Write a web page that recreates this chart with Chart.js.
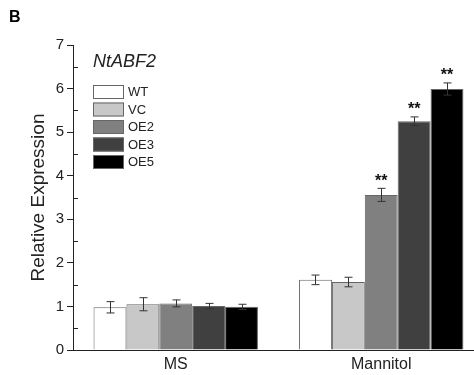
<!DOCTYPE html>
<html>
<head>
<meta charset="utf-8">
<script src="https://cdn.jsdelivr.net/npm/chart.js@4.4.0/dist/chart.umd.min.js"></script>
<style>
  html, body { margin: 0; padding: 0; background: #fff; overflow: hidden; }
  #wrap { position: relative; width: 474px; height: 375px; overflow: hidden; }
</style>
</head>
<body>
<div id="wrap"><canvas id="chart" width="486" height="375"></canvas></div>
<script>
// groups on the x axis
const groups = ['MS', 'Mannitol'];
const lines = ['WT', 'VC', 'OE2', 'OE3', 'OE5'];
const yTicks = [0, 1, 2, 3, 4, 5, 6, 7];

// mean relative expression per group
const meanWT  = [0.98, 1.61];
const meanVC  = [1.05, 1.56];
const meanOE2 = [1.07, 3.56];
const meanOE3 = [1.01, 5.25];
const meanOE5 = [0.99, 5.99];

// error (SD)
const errWT  = [0.13, 0.11];
const errVC  = [0.15, 0.11];
const errOE2 = [0.08, 0.15];
const errOE3 = [0.06, 0.10];
const errOE5 = [0.06, 0.14];

// significance marks
const sigWT  = ['', ''];
const sigVC  = ['', ''];
const sigOE2 = ['', '**'];
const sigOE3 = ['', '**'];
const sigOE5 = ['', '**'];

const fills = ['#ffffff', '#c8c8c8', '#808080', '#404040', '#000000'];
const means = [meanWT, meanVC, meanOE2, meanOE3, meanOE5];
const errs = [errWT, errVC, errOE2, errOE3, errOE5];
const sigs = [sigWT, sigVC, sigOE2, sigOE3, sigOE5];

const FONT = 'Arial, "Liberation Sans", sans-serif';

const datasets = lines.map((name, k) => ({
    label: name,
    data: means[k],
    backgroundColor: fills[k],
    borderColor: '#666',
    borderWidth: 1,
    barPercentage: 1.0,
    categoryPercentage: 0.8,
    errs: errs[k],
    sigs: sigs[k]
}));

// error bars + stars
const errorBars = {
    id: 'errorBars',
    afterDatasetsDraw(chart) {
        const ctx = chart.ctx;
        const y = chart.scales.y;
        ctx.save();
        chart.data.datasets.forEach((ds, k) => {
            const meta = chart.getDatasetMeta(k);
            meta.data.forEach((bar, i) => {
                const m = ds.data[i], e = ds.errs[i];
                const top = y.getPixelForValue(m + e);
                const bot = y.getPixelForValue(m - e);
                const bx = Math.round(bar.x) + 0.5;
                ctx.strokeStyle = '#333';
                ctx.lineWidth = 1;
                ctx.beginPath();
                ctx.moveTo(bx, top); ctx.lineTo(bx, bot);
                ctx.moveTo(bx - 4, top); ctx.lineTo(bx + 4, top);
                ctx.moveTo(bx - 4, bot); ctx.lineTo(bx + 4, bot);
                ctx.stroke();
                if (ds.sigs[i]) {
                    ctx.fillStyle = '#111';
                    ctx.font = 'bold 16px ' + FONT;
                    ctx.textAlign = 'center';
                    ctx.textBaseline = 'middle';
                    ctx.fillText(ds.sigs[i], bar.x, top - 7);
                }
            });
        });
        ctx.restore();
    }
};

// minor ticks pointing inward
const minorTicks = {
    id: 'minorTicks',
    afterDraw(chart) {
        const ctx = chart.ctx;
        const y = chart.scales.y;
        const x0 = chart.chartArea.left;
        ctx.save();
        ctx.strokeStyle = '#222';
        ctx.lineWidth = 1;
        ctx.beginPath();
        yTicks.slice(0, -1).forEach(v => {
            const py = Math.round(y.getPixelForValue(v + 0.5)) + 0.5;
            ctx.moveTo(x0, py); ctx.lineTo(x0 + 5, py);
        });
        ctx.stroke();
        ctx.restore();
    }
};

// legend, gene name and panel letter
const annotations = {
    id: 'annotations',
    afterDraw(chart) {
        const ctx = chart.ctx;
        ctx.save();
        ctx.fillStyle = '#000';
        ctx.textBaseline = 'middle';
        ctx.textAlign = 'left';
        ctx.font = 'bold 16px ' + FONT;
        ctx.fillText('B', 9, 18);
        ctx.font = 'italic 18px ' + FONT;
        ctx.fillStyle = '#222';
        ctx.fillText('NtABF2', 93, 62);
        ctx.font = '13px ' + FONT;
        chart.data.datasets.forEach((ds, k) => {
            const by = 85 + k * 17.5;
            ctx.fillStyle = ds.backgroundColor;
            ctx.fillRect(93, by, 31, 14);
            ctx.strokeStyle = '#666';
            ctx.strokeRect(93.5, by + 0.5, 30, 13);
            ctx.fillStyle = '#222';
            ctx.fillText(ds.label, 128, by + 7.5);
        });
        ctx.restore();
    }
};

new Chart(document.getElementById('chart'), {
    type: 'bar',
    data: { labels: groups, datasets: datasets },
    options: {
        responsive: false,
        animation: false,
        layout: { padding: { top: 45, right: 2, left: 0, bottom: 0 } },
        plugins: { legend: { display: false }, tooltip: { enabled: false } },
        scales: {
            x: {
                afterFit: s => { s.height = 25; },
                grid: { display: false, drawTicks: false },
                border: { display: true, color: '#222', width: 1 },
                ticks: {
                    color: '#222',
                    font: { family: FONT, size: 16 },
                    padding: 5,
                    maxRotation: 0
                }
            },
            y: {
                min: 0,
                max: 7,
                afterBuildTicks: s => { s.ticks = yTicks.map(v => ({ value: v })); },
                afterFit: s => { s.width = 73; },
                grid: { display: true, drawOnChartArea: false, drawTicks: true, tickLength: 6, color: '#222' },
                border: { display: true, color: '#222', width: 1 },
                ticks: { color: '#222', font: { family: FONT, size: 15 }, padding: 3 },
                title: {
                    display: true,
                    text: 'Relative Expression',
                    color: '#222',
                    font: { family: FONT, size: 19 },
                    padding: { top: 27, bottom: 0 }
                }
            }
        }
    },
    plugins: [errorBars, minorTicks, annotations]
});
</script>
</body>
</html>
